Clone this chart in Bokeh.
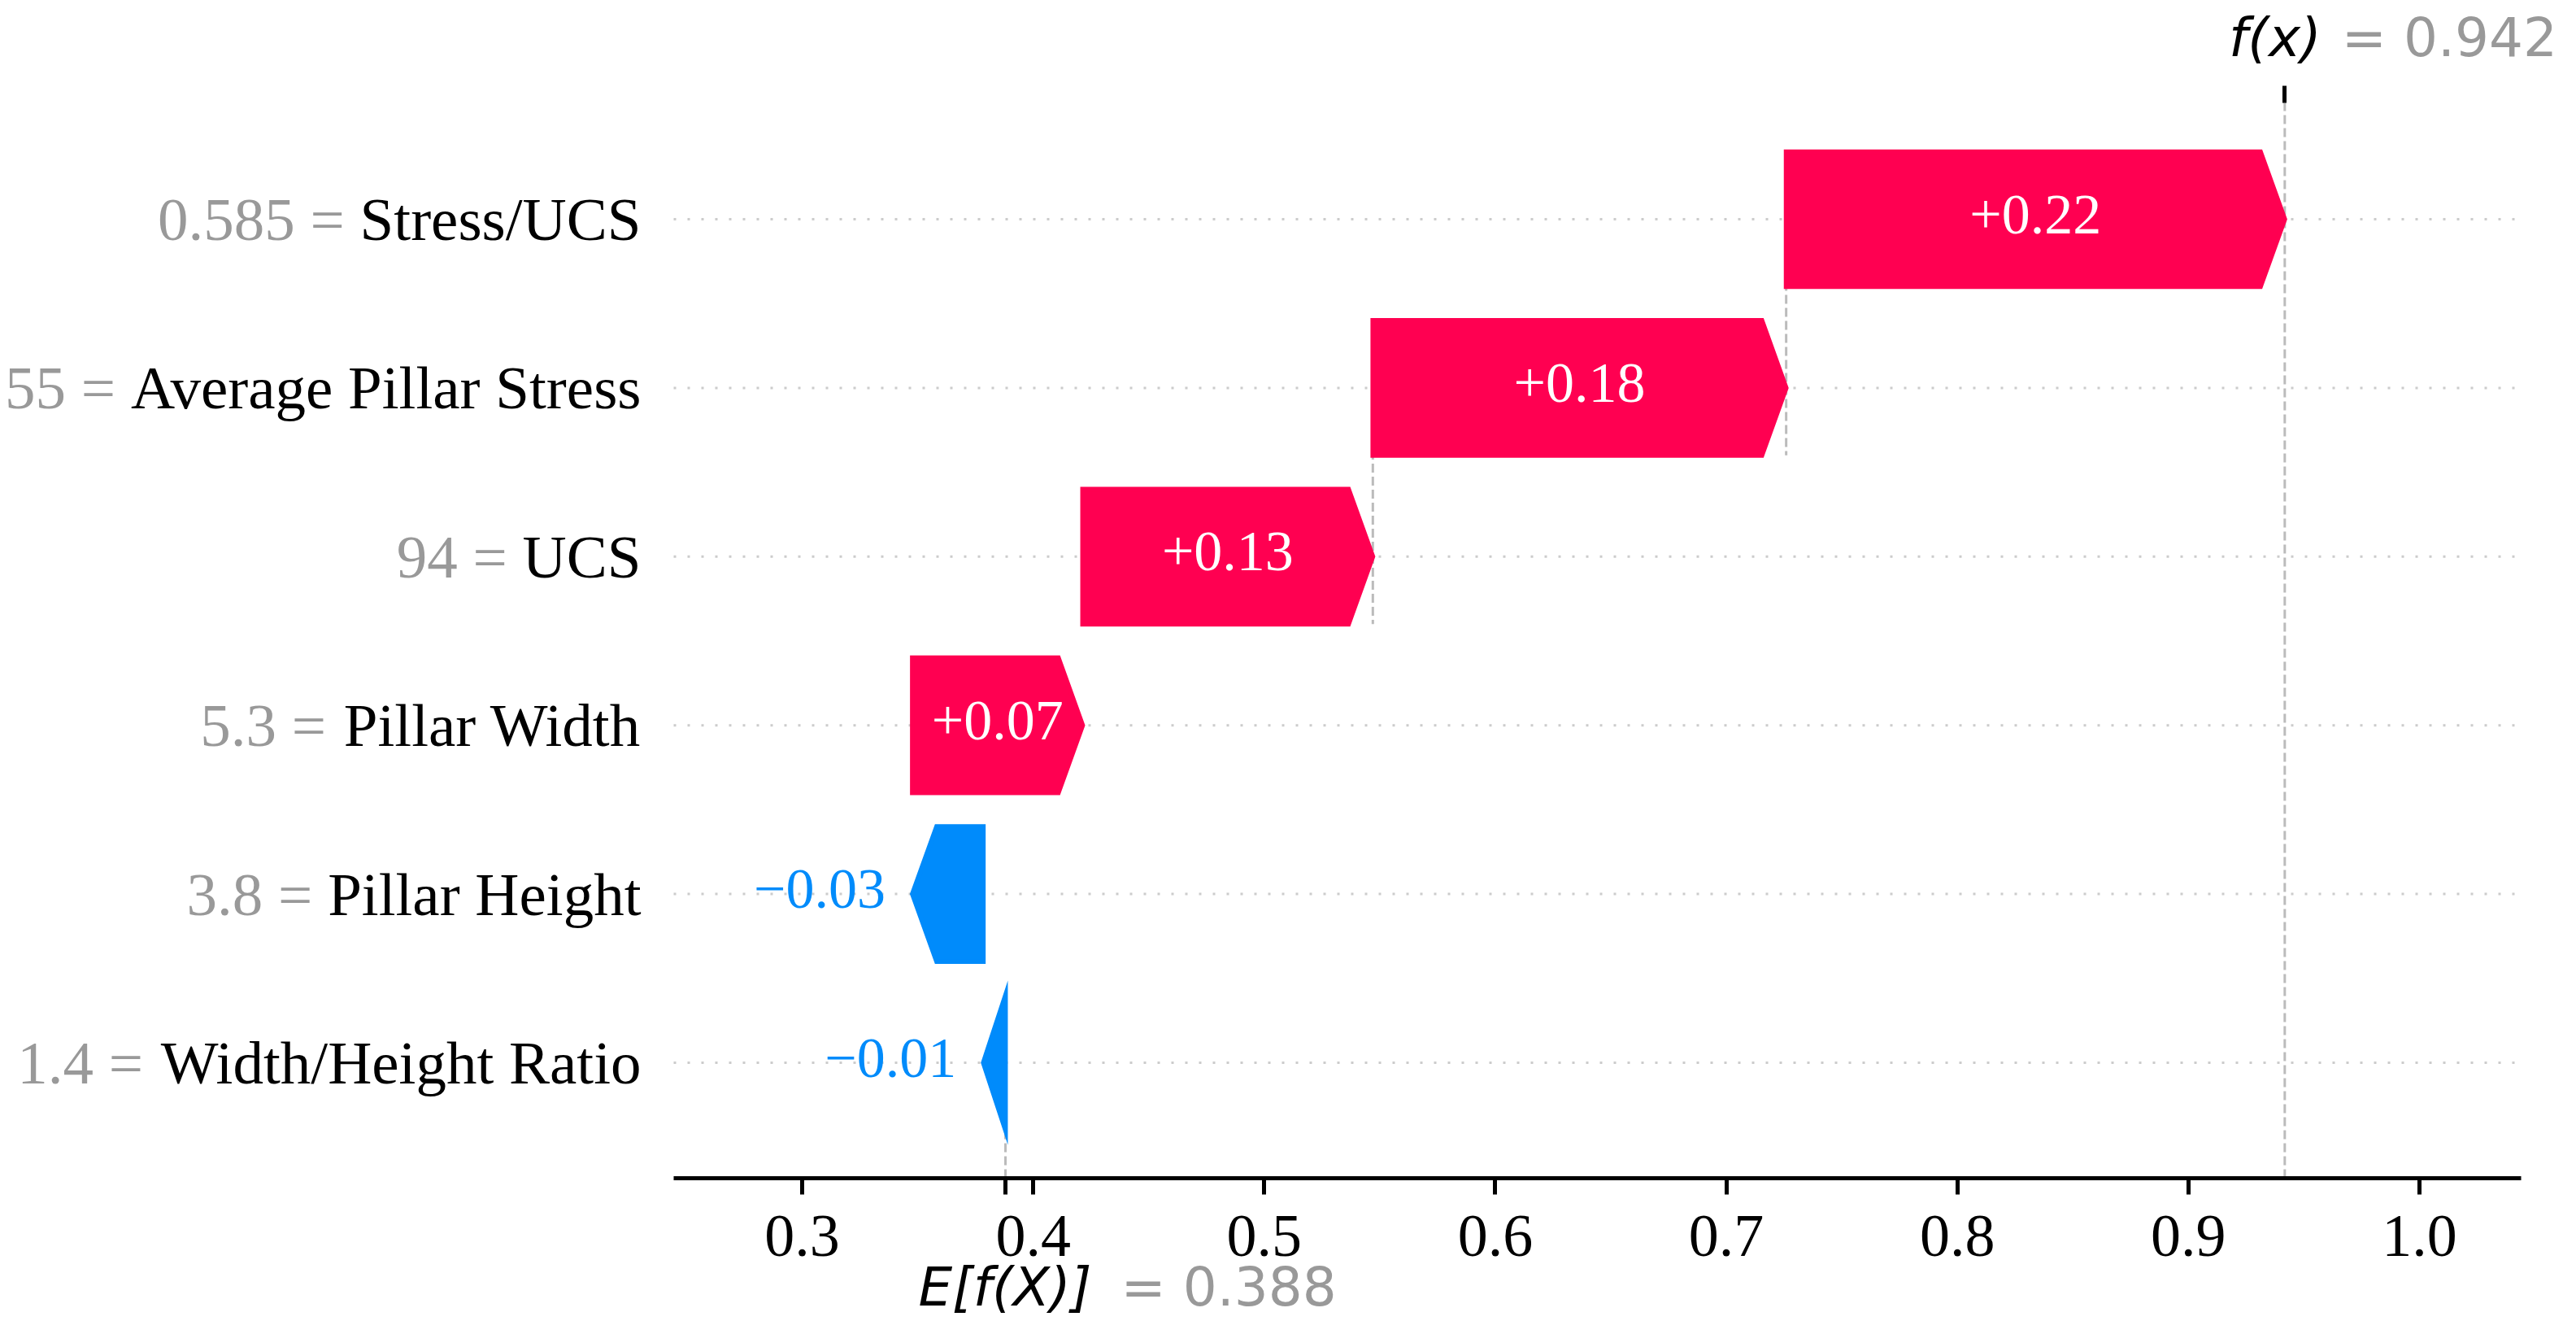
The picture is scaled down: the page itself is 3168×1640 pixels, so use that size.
from bokeh.plotting import figure
from bokeh.models import Range1d, LinearAxis, FixedTicker
from bokeh.core.properties import value
from bokeh.embed import file_html
from bokeh.resources import INLINE

# ---- data (bottom row first) ----
feature_names = ["Width/Height Ratio", "Pillar Height", "Pillar Width", "UCS",
                 "Average Pillar Stress", "Stress/UCS"]
feature_values = ["1.4", "3.8", "5.3", "94", "55", "0.585"]
shap_values = [-0.0096, -0.0307, 0.0737, 0.1256, 0.1789, 0.2158]
base_value = 0.388
xtick_vals = [0.3, 0.4, 0.5, 0.6, 0.7, 0.8, 0.9, 1.0]
xtick_labels = ["0.3", "0.4", "0.5", "0.6", "0.7", "0.8", "0.9", "1.0"]

RED = "#ff0051"
BLUE = "#008bfb"
GRAY = "#999999"
SERIF = "Liberation Serif"
SANS = "DejaVu Sans"
LABEL_PX = 75

W, H = 3152, 1624
SX = 2841.4          # px per x unit
SY = 207.4           # px per row
X03 = 986            # pixel of x = 0.3
ROW0 = 1306          # pixel of row 0


def xd(px):
    return 0.3 + (px - X03) / SX


def yd(py):
    return (ROW0 - py) / SY


x_lo, x_hi = xd(0), xd(W)
y_lo, y_hi = yd(H), yd(0)
ax_left, ax_right = xd(828), xd(3100)     # extent of the original axes box
ax_bot, ax_top = yd(1448), yd(126)

n = len(shap_values)
fx = base_value + sum(shap_values)
bar_h = 0.8
head = 0.0105

# Times / Liberation Serif advance widths (per 1000 em) used to place the gray prefix
ADV = {" ": 250, ".": 250, "/": 278, "=": 564, "A": 722, "C": 667, "H": 722, "P": 556,
       "R": 667, "S": 556, "U": 722, "W": 944, "a": 444, "d": 500, "e": 444, "g": 500,
       "h": 500, "i": 278, "l": 278, "o": 500, "r": 333, "s": 389, "t": 278, "v": 500}
KERN = {"Av": -74}


def text_width(s):
    w = sum(ADV.get(c, 500) for c in s)
    w += sum(KERN.get(s[k:k + 2], 0) for k in range(len(s) - 1))
    return w / 1000.0 * LABEL_PX


p = figure(width=W, height=H, x_range=Range1d(x_lo, x_hi), y_range=Range1d(y_lo, y_hi),
           output_backend="svg", toolbar_location=None,
           x_axis_location=None, y_axis_location=None,
           min_border=0, outline_line_color=None,
           background_fill_color="white", border_fill_color="white")
p.grid.visible = False

rows = list(range(n))
# horizontal dotted row lines
p.segment(x0=[ax_left] * n, x1=[ax_right] * n, y0=rows, y1=rows, line_color="#cccccc",
          line_width=3, line_dash="3 14")

# cumulative positions
starts, ends = [], []
cur = base_value
for v in shap_values:
    starts.append(cur)
    cur += v
    ends.append(cur)

# dashed connector lines (top two bars) + base value and f(x) lines
vx, vy0, vy1 = [], [], []
for i in [n - 1, n - 2]:
    vx.append(starts[i]); vy0.append(i + 0.4); vy1.append(i - 1 - 0.4)
vx.append(base_value); vy0.append(ax_bot); vy1.append(ax_bot + (ax_top - ax_bot) / n)
vx.append(fx); vy0.append(ax_bot); vy1.append(ax_top)
p.segment(x0=vx, x1=vx, y0=vy0, y1=vy1, line_color="#bbbbbb", line_width=3, line_dash="11 5")

# arrow-shaped bars
xs, ys, cols = [], [], []
for i, v in enumerate(shap_values):
    s, e = starts[i], ends[i]
    sgn = 1 if v >= 0 else -1
    hl = min(abs(v), head)
    b = e - sgn * hl
    xs.append([s, b, e, b, s])
    ys.append([i - bar_h / 2, i - bar_h / 2, i, i + bar_h / 2, i + bar_h / 2])
    cols.append(RED if v >= 0 else BLUE)
p.patches(xs, ys, fill_color=cols, line_color=cols, line_width=5.8, line_join="miter")


def fmt(v):
    return ("%+0.02f" % v).replace("-", "\u2212")


pos_i = [i for i, v in enumerate(shap_values) if v >= 0]
neg_i = [i for i, v in enumerate(shap_values) if v < 0]
lab_dy = 6 / SY
p.text(x=[starts[i] + shap_values[i] / 2 for i in pos_i], y=[i + lab_dy for i in pos_i],
       text=[fmt(shap_values[i]) for i in pos_i], text_color="white",
       text_font=value(SERIF), text_font_size="70px", text_align="center", text_baseline="middle")
p.text(x=[ends[i] for i in neg_i], y=[i + lab_dy for i in neg_i],
       text=[fmt(shap_values[i]) for i in neg_i], text_color=BLUE, x_offset=-33,
       text_font=value(SERIF), text_font_size="70px", text_align="right", text_baseline="middle")

# feature labels: black name, gray "value =" to its left
NAME_OFF = -40
p.text(x=[ax_left] * n, y=rows, text=feature_names, x_offset=NAME_OFF, text_align="right",
       text_baseline="middle", text_color="black", text_font=value(SERIF),
       text_font_size=f"{LABEL_PX}px")
sp = ADV[" "] / 1000.0 * LABEL_PX
for i in range(n):
    off = NAME_OFF - text_width(feature_names[i]) - sp
    p.text(x=[ax_left], y=[i], text=[f"{feature_values[i]} ="], x_offset=off,
           text_align="right", text_baseline="middle", text_color=GRAY,
           text_font=value(SERIF), text_font_size=f"{LABEL_PX}px")

# bottom axis (at the original axes' bottom)
ov = {v: l for v, l in zip(xtick_vals, xtick_labels)}
ov[base_value] = ""
xa = LinearAxis(fixed_location=ax_bot, bounds=(ax_left, ax_right),
                ticker=FixedTicker(ticks=xtick_vals + [base_value]),
                major_label_overrides=ov,
                axis_line_width=5, axis_line_color="black",
                major_tick_line_width=5, major_tick_out=20, major_tick_in=0,
                minor_tick_line_color=None,
                major_label_text_font=SERIF, major_label_text_font_size="74px",
                major_label_text_color="black", major_label_standoff=26)
p.add_layout(xa, "below")

# top axis with a single tick at f(x)
ta = LinearAxis(fixed_location=ax_top, ticker=FixedTicker(ticks=[fx]),
                major_label_overrides={fx: ""}, axis_line_color=None,
                major_tick_line_width=5, major_tick_out=21, major_tick_in=0,
                minor_tick_line_color=None, major_label_standoff=0)
p.add_layout(ta, "above")

# f(x) and E[f(X)] annotations
y_fx = yd(46)
y_ex = yd(1582)
p.text(x=[fx], y=[y_fx], text=["f(x)"], x_offset=45, text_align="right",
       text_baseline="middle", text_font=value(SANS), text_font_style="italic",
       text_font_size="66px", text_color="black")
p.text(x=[fx], y=[y_fx], text=["= %0.03f" % fx], x_offset=70, text_align="left",
       text_baseline="middle", text_font=value(SANS), text_font_size="66px", text_color=GRAY)
p.text(x=[base_value], y=[y_ex], text=["E[f(X)]"], x_offset=106, text_align="right",
       text_baseline="middle", text_font=value(SANS), text_font_style="italic",
       text_font_size="66px", text_color="black")
p.text(x=[base_value], y=[y_ex], text=["= %0.03f" % base_value], x_offset=142,
       text_align="left", text_baseline="middle", text_font=value(SANS),
       text_font_size="66px", text_color=GRAY)

open("out.html", "w").write(file_html(p, INLINE))
